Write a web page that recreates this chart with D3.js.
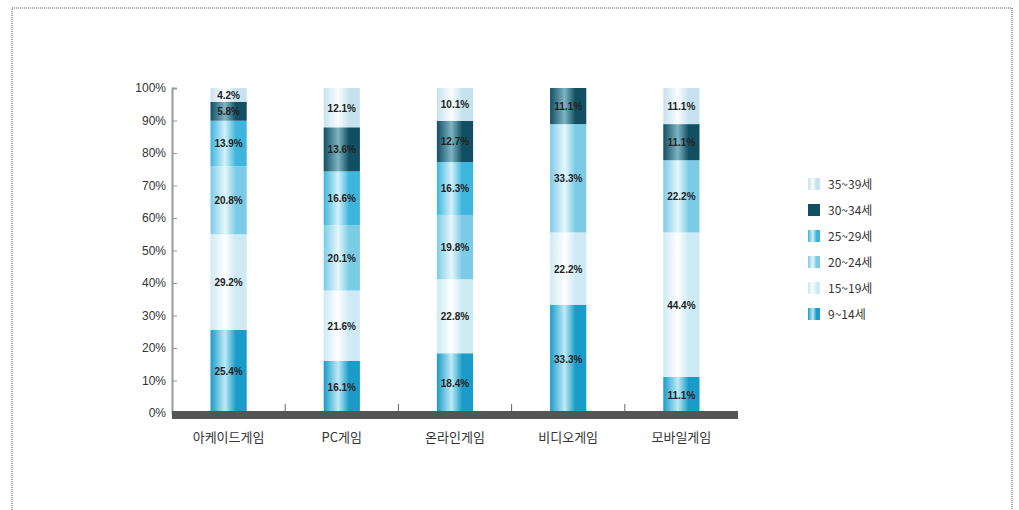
<!DOCTYPE html>
<html><head><meta charset="utf-8">
<script src="https://cdn.jsdelivr.net/npm/d3@7"></script>
<style>body{margin:0;background:#fff;font-family:"Noto Sans CJK KR","DejaVu Sans",sans-serif;}</style>
</head><body><svg id="c" width="1019" height="510"></svg>
<script>
const categories = ["아케이드게임","PC게임","온라인게임","비디오게임","모바일게임"];
const seriesNames = ["9~14세","15~19세","20~24세","25~29세","30~34세","35~39세"];
const age9_14  = [25.4, 16.1, 18.4, 33.3, 11.1];
const age15_19 = [29.2, 21.6, 22.8, 22.2, 44.4];
const age20_24 = [20.8, 20.1, 19.8, 33.3, 22.2];
const age25_29 = [13.9, 16.6, 16.3, 0, 0];
const age30_34 = [5.8, 13.6, 12.7, 11.1, 11.1];
const age35_39 = [4.2, 12.1, 10.1, 0, 11.1];
const yTicks = [0,10,20,30,40,50,60,70,80,90,100];

const seriesValues = [age9_14, age15_19, age20_24, age25_29, age30_34, age35_39];
const colors = [
  {edge:"#1a9cc8", mid:"#bfeaf6"},
  {edge:"#cdeaf5", mid:"#ffffff"},
  {edge:"#7ccbe6", mid:"#e6f7fc"},
  {edge:"#3db5dc", mid:"#d4f1fa"},
  {edge:"#124f63", mid:"#7fb4c2"},
  {edge:"#c6e2ee", mid:"#fbfdff"}
];

const rows = categories.map((c,i)=>{const o={cat:c}; seriesNames.forEach((s,j)=>o[s]=seriesValues[j][i]); return o;});
const stack = d3.stack().keys(seriesNames).offset(d3.stackOffsetExpand)(rows);

const svg = d3.select("#c");
const defs = svg.append("defs");
colors.forEach((c,i)=>{
  const g = defs.append("linearGradient").attr("id","g"+i).attr("x1","0").attr("x2","1").attr("y1","0").attr("y2","0");
  g.append("stop").attr("offset","0%").attr("stop-color",c.edge);
  g.append("stop").attr("offset","40%").attr("stop-color",c.mid);
  g.append("stop").attr("offset","70%").attr("stop-color",c.edge);
  g.append("stop").attr("offset","100%").attr("stop-color",c.edge);
});

// frame
svg.append("rect").attr("x",12).attr("y",8).attr("width",1000).attr("height",520)
  .attr("fill","none").attr("stroke","#888").attr("stroke-width",1.5).attr("stroke-dasharray","1,1");

const x0 = 172, x1 = 738, yTop = 88, yBot = 413;
const x = d3.scaleBand().domain(categories).range([x0,x1]).paddingInner(0.68).paddingOuter(0.34);
const y = d3.scaleLinear().domain([0,1]).range([yBot,yTop]);
const yPct = d3.scaleLinear().domain([0,100]).range([yBot,yTop]);

// y axis
const yAxis = d3.axisRight(yPct).tickValues(yTicks).tickSize(5).tickFormat("");
const ya = svg.append("g").attr("transform",`translate(${x0},0)`).call(yAxis);
ya.select(".domain").attr("stroke","#999").attr("stroke-width",2);
ya.selectAll(".tick line").attr("stroke","#999");
svg.append("g").selectAll("text").data(yTicks).join("text")
  .attr("x",x0-6).attr("y",d=>yPct(d)+4).attr("text-anchor","end")
  .attr("font-size",12).attr("fill","#333").attr("font-family","Liberation Sans, Arial")
  .text(d=>d+"%");

// bars
stack.forEach((s,i)=>{
  svg.append("g").selectAll("rect").data(s).join("rect")
    .attr("x",d=>x(d.data.cat)).attr("width",x.bandwidth())
    .attr("y",d=>y(d[1])).attr("height",d=>y(d[0])-y(d[1]))
    .attr("fill",`url(#g${i})`);
});
// labels
stack.forEach((s,i)=>{
  svg.append("g").selectAll("text").data(s.filter(d=>d.data[seriesNames[i]]>0)).join("text")
    .attr("x",d=>x(d.data.cat)+x.bandwidth()/2).attr("y",d=>(y(d[0])+y(d[1]))/2+4)
    .attr("text-anchor","middle").attr("font-size",10).attr("font-weight","bold")
    .attr("fill","#222").attr("font-family","Liberation Sans, Arial")
    .text(d=>d.data[seriesNames[i]].toFixed(1)+"%");
});

// baseline
svg.append("rect").attr("x",x0).attr("y",yBot-2).attr("width",x1-x0).attr("height",8).attr("fill","#555");
// category ticks between bars
const xb = d3.scaleBand().domain(categories).range([x0,x1]);
svg.append("g").selectAll("line").data(categories.slice(1)).join("line")
  .attr("x1",d=>xb(d)).attr("x2",d=>xb(d)).attr("y1",yBot-9).attr("y2",yBot-2)
  .attr("stroke","#666");
// x labels
svg.append("g").selectAll("text").data(categories).join("text")
  .attr("x",d=>x(d)+x.bandwidth()/2).attr("y",442).attr("text-anchor","middle")
  .attr("font-size",13).attr("fill","#333").text(d=>d);

// legend
const legOrder = seriesNames.map((s,i)=>i).reverse();
const lg = svg.append("g").attr("transform","translate(808,184)");
lg.selectAll("g").data(legOrder).join("g").attr("transform",(d,k)=>`translate(0,${k*26})`)
  .each(function(i){
    const g=d3.select(this);
    g.append("rect").attr("x",0).attr("y",-6).attr("width",12).attr("height",12).attr("fill",i===4?colors[i].edge:`url(#g${i})`);
    g.append("text").attr("x",20).attr("y",5).attr("font-size",12).attr("fill","#333").text(seriesNames[i]);
  });
</script></body></html>
